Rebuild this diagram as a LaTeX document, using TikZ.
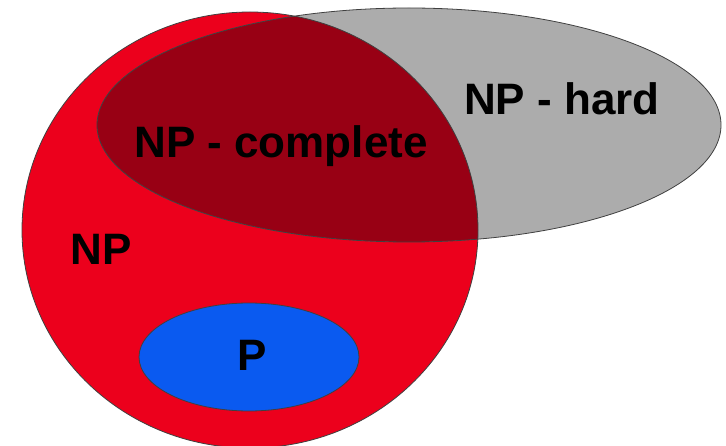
\documentclass[tikz,border=0pt]{standalone}
\usepackage{fontspec}
\setmainfont{Liberation Sans}
\usetikzlibrary{positioning}

\definecolor{npred}{RGB}{236,0,28}
\definecolor{npcdark}{RGB}{152,0,20}
\definecolor{hardgray}{RGB}{172,172,172}
\definecolor{pblue}{RGB}{10,90,240}

\begin{document}
\begin{tikzpicture}[x=1pt, y=-1pt, setlabel/.style={font=\fontsize{44}{48}\selectfont\bfseries, anchor=base, inner sep=0pt}]
    \clip (0,0) rectangle (726,446);
    \fill[white] (0,0) rectangle (726,446);
    % the classes
    \fill[npred] (250,230) ellipse (228 and 218);
    \fill[hardgray] (409,125) ellipse (312 and 117);
    \begin{scope}
      \clip (250,230) ellipse (228 and 218);
      \fill[npcdark] (409,125) ellipse (312 and 117);
    \end{scope}
    \draw[black!75, line width=0.8pt] (250,230) ellipse (228 and 218);
    \draw[black!75, line width=0.8pt] (409,125) ellipse (312 and 117);
    \draw[black!75, line width=0.8pt, fill=pblue] (249,357) ellipse (110 and 54);
    % labels
    \node[setlabel] (npc) at (281,158) {NP - complete};
    \node[setlabel] (nph) at (562,115) {NP - hard};
    \node[setlabel] (np) at (101,265) {NP};
    \node[setlabel] (p) at (252,371) {P};
\end{tikzpicture}
\end{document}
